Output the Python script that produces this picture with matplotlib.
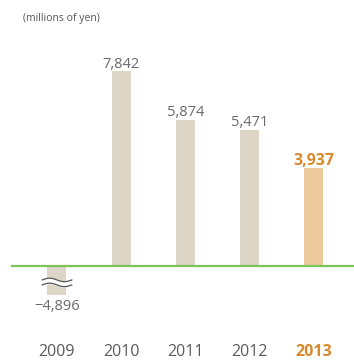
import matplotlib
matplotlib.use('Agg')
import matplotlib.pyplot as plt
import numpy as np

# net income by fiscal year (millions of yen)
years = ['2009', '2010', '2011', '2012', '2013']
values = [-4896, 7842, 5874, 5471, 3937]
labels = ['\u22124,896', '7,842', '5,874', '5,471', '3,937']

BAR = '#ddd6c6'
BAR_HI = '#ecca9d'
TXT = '#6a6a6a'
ORANGE = '#d88a2b'
GREEN = '#7cc35a'

plt.rcParams['font.family'] = ['Open Sans', 'DejaVu Sans']

fig = plt.figure(figsize=(3.54, 3.6), dpi=100)
ax = fig.add_axes([0, 65 / 360, 1, 295 / 360])

x = np.arange(len(years))
colors = [BAR] * (len(years) - 1) + [BAR_HI]
ax.bar(x, values, width=0.296, color=colors, zorder=2)

# 2009 bar is cut off by the axis bottom, mark the break
ax.set_xlim(-0.887, 4.623)
ax.set_ylim(-1166, 10696)
ax.axhline(0, xmin=0.034, xmax=0.997, color=GREEN, lw=1.6, zorder=3)

wx = np.linspace(-0.23, 0.23, 60)
wave = 70 * np.sin((wx + 0.23) / 0.46 * 2 * np.pi)
ax.fill_between(wx, -560 + wave, -760 + wave, color='white', zorder=4)
for off in (-560, -760):
    ax.plot(wx, off + wave, color='#555555', lw=0.9, zorder=5)

for i, (v, lab) in enumerate(zip(values, labels)):
    last = i == len(values) - 1
    if v > 0:
        ax.annotate(lab, (i, v), xytext=(0, 2.5), textcoords='offset points',
                    ha='center', va='baseline',
                    fontsize=11.5 if last else 10.5,
                    fontweight='bold' if last else 'normal',
                    color=ORANGE if last else TXT)
    else:
        ax.annotate(lab, (i, ax.get_ylim()[0]), xytext=(0, -3), textcoords='offset points',
                    ha='center', va='top', fontsize=10.5, color=TXT,
                    annotation_clip=False)

ax.set_xticks(x)
ax.set_xticklabels(years, fontsize=11.5, color='#5a5a5a')
ax.tick_params(axis='x', length=0, pad=35.5)
ax.tick_params(axis='y', left=False, labelleft=False)
last_tick = ax.get_xticklabels()[-1]
last_tick.set_color(ORANGE)
last_tick.set_fontweight('bold')

for s in ax.spines.values():
    s.set_visible(False)

fig.text(23 / 354, 1 - 18 / 360, '(millions of yen)', fontsize=7.5, color='#555555',
         ha='left', va='center')

fig.savefig('out.png', dpi=100)
